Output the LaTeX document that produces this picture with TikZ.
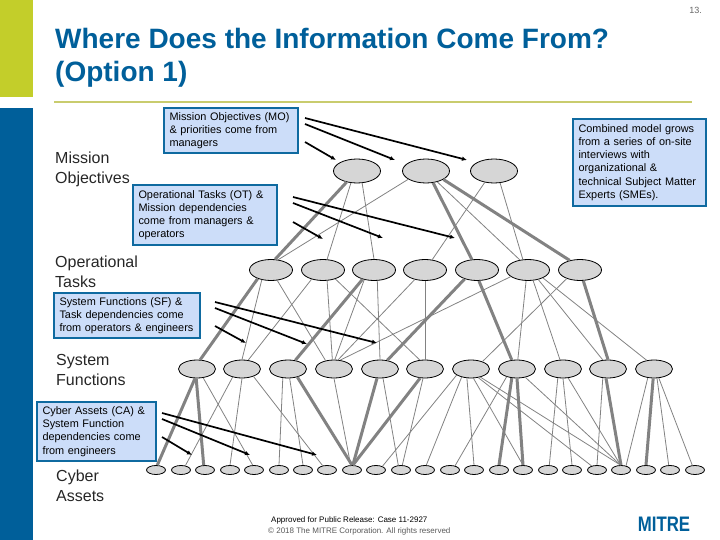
\documentclass[tikz,border=0pt]{standalone}
\usepackage{fontspec}
\setmainfont{Liberation Sans}
\usetikzlibrary{shapes.geometric, arrows.meta}
\definecolor{mitreblue}{HTML}{005F9A}
\definecolor{mitregreen}{HTML}{C3CE2A}
\definecolor{rulegreen}{HTML}{C9CC6E}
\definecolor{boxblue}{HTML}{CCDDF9}
\definecolor{boxedge}{HTML}{0F6AA0}
\definecolor{nodegray}{HTML}{D6D6D6}
\definecolor{edgegray}{HTML}{828282}
\tikzset{
  topnode/.style={ellipse, draw=black, fill=nodegray, line width=0.8pt, inner sep=0pt, minimum width=47pt, minimum height=24pt},
  tasknode/.style={topnode, minimum width=43pt, minimum height=21pt},
  funcnode/.style={topnode, minimum width=37pt, minimum height=18pt},
  assetnode/.style={topnode, minimum width=19pt, minimum height=9pt},
  thinedge/.style={edgegray, line width=0.8pt},
  thickedge/.style={edgegray, line width=3pt},
  feedarrow/.style={black, line width=1.7pt, -{Latex[length=5pt,width=4.5pt]}},
  infobox/.style={draw=boxedge, fill=boxblue, line width=2pt, anchor=north west, align=left, inner ysep=0pt, inner xsep=5.5pt, font=\fontsize{10.9}{13.2}\selectfont},
  levellabel/.style={anchor=west, align=left, inner sep=0pt, text=black!85, font=\fontsize{16}{20}\selectfont}
}
\begin{document}
\begin{tikzpicture}[x=1pt, y=-1pt]
\useasboundingbox (0,0) rectangle (720,540);
% Side bars and rule
\fill[mitregreen] (0,0) rectangle (33,97);
\fill[mitreblue] (0,108) rectangle (33,540);
\fill[rulegreen] (54,101) rectangle (692,103.5);
% Title
\node[anchor=north west, align=left, inner sep=0pt, text=mitreblue, font=\fontsize{28}{33}\selectfont\bfseries] (title) at (55,28) {Where Does the Information Come From?\\(Option 1)};
\node[anchor=east, inner sep=0pt, text=black!60, font=\fontsize{9}{10}\selectfont] (pagenum) at (702,10) {13.};
% Level labels
\node[levellabel] (moLabel) at (55,169.5) {Mission\\Objectives};
\node[levellabel] (otLabel) at (55,272) {Operational\\Tasks};
\node[levellabel] (sfLabel) at (56,370) {System\\Functions};
\node[levellabel] (caLabel) at (56,486) {Cyber\\Assets};
% Model nodes
\foreach \n/\x in {M1/357,M2/426,M3/494}
  \node[topnode] (\n) at (\x,171) {};
\foreach \n/\x in {O1/271,O2/323,O3/374,O4/425,O5/477,O6/528,O7/580}
  \node[tasknode] (\n) at (\x,270) {};
\foreach \n/\x in {S1/197,S2/242,S3/288,S4/334,S5/380,S6/425,S7/471,S8/517,S9/563,S10/608,S11/654}
  \node[funcnode] (\n) at (\x,369) {};
\foreach \n/\x in {C1/156,C2/181,C3/205,C4/230,C5/254,C6/279,C7/303,C8/327,C9/352,C10/376,C11/401,C12/425,C13/450,C14/474,C15/499,C16/523,C17/548,C18/572,C19/597,C20/621,C21/646,C22/670,C23/695}
  \node[assetnode] (\n) at (\x,470) {};
% Dependencies
\foreach \a/\b in {M1.243/O2.69,M1.293/O3.90,M2.205/O1.55,M2.316/O6.129,M3.231/O4.55,M3.297/O6.116,
  O1.227/S2.90,O1.301/S4.135,O2.219/S2.55,O2.291/S4.100,O2.324/S6.120,O3.225/S4.85,O3.287/S5.90,O4.223/S4.66,O4.270/S6.90,
  O6.201/S4.55,O6.260/S8.85,O6.296/S9.108,O6.317/S10.120,O6.332/S11.130,O7.213/S7.33,
  S1.305/C5.105,S2.221/C2.45,S2.270/C4.90,S2.327/C8.135,S3.240/C6.90,S3.280/C7.90,S4.270/C9.105,S5.288/C11.120,S6.258/C11.75,
  S7.203/C10.30,S7.221/C12.75,S7.246/C14.90,S7.285/C16.90,S7.310/C19.143,S7.319/C20.95,
  S8.217/C13.40,S8.315/C20.95,S9.240/C17.75,S9.270/C18.90,S9.300/C20.95,S10.240/C19.90,S11.235/C20.40,S11.288/C22.105,S11.298/C23.120}
  \draw[thinedge] (\a) -- (\b);
\foreach \a/\b in {M1.227/O1.69,M2.301/O5.116,M2.334/O7.137,O1.213/S1.71,O3.219/S3.50,O5.216/S5.50,O5.280/S8.120,O7.287/S10.90,
  S1.258/C1.75,S1.265/C3.105,S3.319/C9.90,S5.252/C9.80,S6.242/C9.80,S8.240/C15.90,S8.270/C16.90,S10.258/C20.90,S11.265/C21.90}
  \draw[thickedge] (\a) -- (\b);
% Call-out boxes
\node[infobox, minimum width=134pt, minimum height=45pt, text width=123pt] (moBox) at (163,107) {Mission Objectives (MO)\\\& priorities come from\\managers};
\node[infobox, minimum width=144pt, minimum height=60pt, text width=133pt] (otBox) at (132,184) {Operational Tasks (OT) \&\\Mission dependencies\\come from managers \&\\operators};
\node[infobox, minimum width=146pt, minimum height=45pt, text width=135pt] (sfBox) at (53,292) {System Functions (SF) \&\\Task dependencies come\\from operators \& engineers};
\node[infobox, minimum width=119pt, minimum height=59pt, text width=108pt] (caBox) at (36,401) {Cyber Assets (CA) \&\\System Function\\dependencies come\\from engineers};
\node[infobox, minimum width=133pt, minimum height=87pt, text width=122pt] (smeBox) at (572,118) {Combined model grows\\from a series of on-site\\interviews with\\organizational \&\\technical Subject Matter\\Experts (SMEs).};
% Feed arrows
\foreach \n/\xa/\ya/\xb/\yb in {a/305/118/467/160,b/305/124/395/160,c/305/142/336/160,
  d/293/197/455/238,e/293/203/383/238,f/293/222/323/239,
  g/215/302/377/343,h/215/308/307/344,i/215/326/246/343,
  j/162/413/317/455,k/162/419/250/455,l/162/437/192/455}{
  \coordinate (\n Start) at (\xa,\ya);
  \coordinate (\n End) at (\xb,\yb);
  \draw[feedarrow] (\n Start) -- (\n End);
}
% Footer
\node[anchor=west, inner sep=0pt, text=black, font=\fontsize{8}{9}\selectfont] (release) at (271,520) {Approved for Public Release: Case 11-2927};
\node[anchor=west, inner sep=0pt, text=black!65, font=\fontsize{8}{9}\selectfont] (copyright) at (268,531) {© 2018 The MITRE Corporation. All rights reserved};
\node[anchor=center, inner sep=0pt, xscale=0.8, text=mitreblue, font=\fontsize{21}{21}\selectfont\bfseries] (logo) at (664,524) {MITRE};
\end{tikzpicture}
\end{document}
